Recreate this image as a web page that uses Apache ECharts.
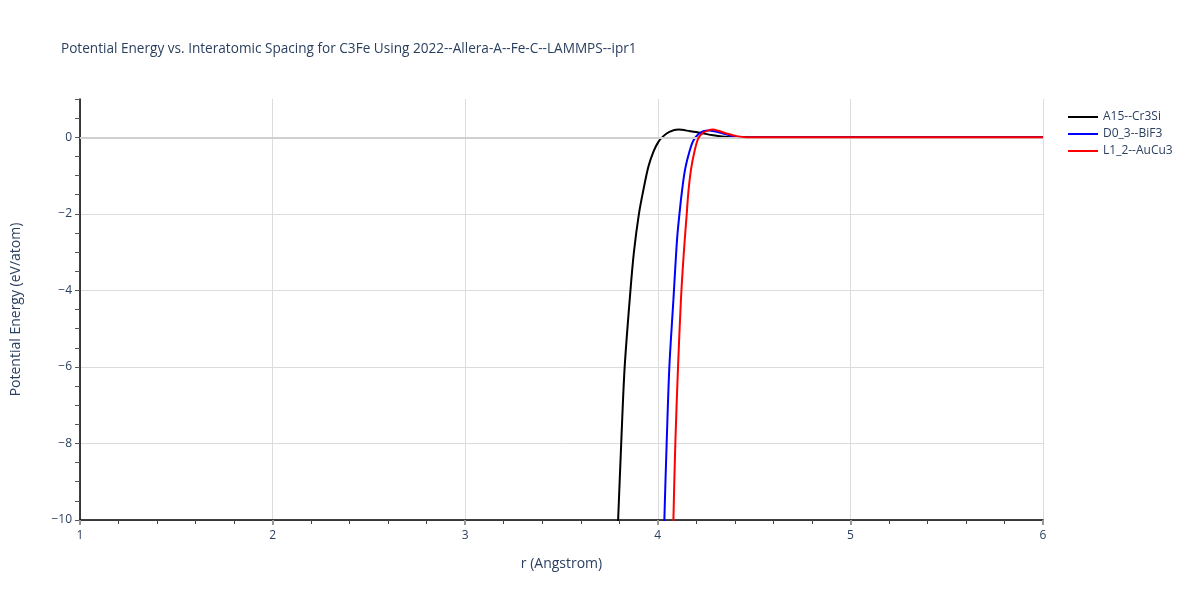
<!DOCTYPE html>
<html>
<head>
<meta charset="utf-8">
<script src="https://cdn.jsdelivr.net/npm/echarts@6/dist/echarts.min.js"></script>
<style>html,body{margin:0;padding:0;background:#fff}#c{width:1200px;height:600px}</style>
</head>
<body>
<div id="c"></div>
<script>
const titleText = "Potential Energy vs. Interatomic Spacing for C3Fe Using 2022--Allera-A--Fe-C--LAMMPS--ipr1";
const seriesNames = ["A15--Cr3Si", "D0_3--BiF3", "L1_2--AuCu3"];
const seriesColors = ["#000000", "#0000ff", "#ff0000"];

const rA15 = [3.782, 3.794, 3.81, 3.828, 3.858, 3.876, 3.902, 3.925, 3.951, 3.977, 4.003, 4.029, 4.06, 4.107, 4.167, 4.219, 4.288, 4.357, 4.43, 4.5, 5.0, 6.0];
const eA15 = [-11.5, -10, -8, -6, -4, -3, -2, -1.38, -0.77, -0.38, -0.12, 0.03, 0.14, 0.2, 0.16, 0.12, 0.05, 0.01, 0, 0, 0, 0];

const rD03 = [4.028, 4.034, 4.046, 4.060, 4.081, 4.090, 4.101, 4.112, 4.124, 4.141, 4.164, 4.184, 4.21, 4.236, 4.265, 4.3, 4.34, 4.39, 4.44, 4.5, 5.0, 6.0];
const eD03 = [-11.5, -10, -8, -6, -4.25, -3.47, -2.6, -2.02, -1.47, -0.86, -0.38, -0.09, 0.08, 0.16, 0.18, 0.15, 0.1, 0.03, 0, 0, 0, 0];

const rL12 = [4.075, 4.081, 4.091, 4.105, 4.120, 4.129, 4.141, 4.15, 4.158, 4.172, 4.19, 4.21, 4.233, 4.262, 4.285, 4.314, 4.357, 4.409, 4.46, 4.5, 5.0, 6.0];
const eL12 = [-11.5, -10, -8, -6, -4.25, -3.47, -2.6, -2.02, -1.47, -0.86, -0.38, -0.03, 0.11, 0.18, 0.2, 0.17, 0.1, 0.03, 0, 0, 0, 0];

const xTitle = "r (Angstrom)";
const yTitle = "Potential Energy (eV/atom)";

const zip = (a, b) => a.map((v, i) => [v, b[i]]);
const seriesData = [zip(rA15, eA15), zip(rD03, eD03), zip(rL12, eL12)];

const txt = '#2a3f5f';
const font = '"Open Sans", "Noto Sans", sans-serif';
const grid = '#dcdcdc';

const chart = echarts.init(document.getElementById('c'), null, {renderer: 'canvas'});
const fmt = v => (v < 0 ? '\u2212' + Math.abs(v) : String(v));

const series = seriesData.map((d, i) => ({
  name: seriesNames[i], type: 'line', data: d, xAxisIndex: 0, yAxisIndex: 0,
  symbol: 'none', smooth: 0.3, clip: true, z: 3 + i,
  lineStyle: {color: seriesColors[i], width: 2}, itemStyle: {color: seriesColors[i]}
}));
series.unshift({
  name: '_zero', type: 'line', data: [], xAxisIndex: 0, yAxisIndex: 0, z: 1, silent: true,
  markLine: {silent: true, symbol: 'none', label: {show: false},
    lineStyle: {color: '#d0d0d0', width: 2, type: 'solid'}, data: [{yAxis: 0}]}
});

chart.setOption({
  animation: false,
  backgroundColor: '#fff',
  title: {text: titleText, left: 56, top: 37,
    textStyle: {fontFamily: font, fontSize: 13.6, fontWeight: 'normal', color: txt}},
  legend: {data: seriesNames, orient: 'vertical', left: 1063, top: 106, itemWidth: 30, itemHeight: 14,
    itemGap: 5, icon: 'path://M0,6 L30,6 L30,8 L0,8 Z',
    textStyle: {fontFamily: font, fontSize: 12, color: txt}},
  grid: {left: 80, right: 157, top: 99, bottom: 80, containLabel: false},
  xAxis: [{
    type: 'value', min: 1, max: 6, interval: 1,
    name: xTitle, nameLocation: 'middle', nameGap: 37,
    nameTextStyle: {fontFamily: font, fontSize: 14, color: txt},
    axisLine: {show: true, onZero: false, lineStyle: {color: '#000', width: 1.5}},
    axisTick: {show: true, inside: false, length: 5, lineStyle: {color: '#999', width: 2}},
    minorTick: {show: true, splitNumber: 5, length: 4, lineStyle: {color: '#444', width: 1}},
    axisLabel: {fontFamily: font, fontSize: 12, color: txt, margin: 10},
    splitLine: {show: true, lineStyle: {color: grid, width: 1}}
  }],
  yAxis: [{
    type: 'value', min: -10, max: 1, interval: 2, position: 'left',
    name: yTitle, nameLocation: 'middle', nameGap: 57,
    nameTextStyle: {fontFamily: font, fontSize: 14, color: txt},
    axisLine: {show: true, onZero: false, lineStyle: {color: '#000', width: 1.5}},
    axisTick: {show: false},
    axisLabel: {fontFamily: font, fontSize: 12, color: txt, margin: 8, formatter: fmt, showMaxLabel: false},
    splitLine: {show: true, lineStyle: {color: [grid, grid, grid, grid, grid, grid, 'rgba(0,0,0,0)'], width: 1}}
  }, {
    type: 'value', min: -10, max: 1, interval: 0.5, position: 'left', offset: 0,
    axisLine: {show: false},
    axisTick: {show: true, inside: false, length: 5, lineStyle: {color: '#555', width: 1}},
    axisLabel: {show: false},
    splitLine: {show: false}
  }],
  series: series
});
</script>
</body>
</html>
